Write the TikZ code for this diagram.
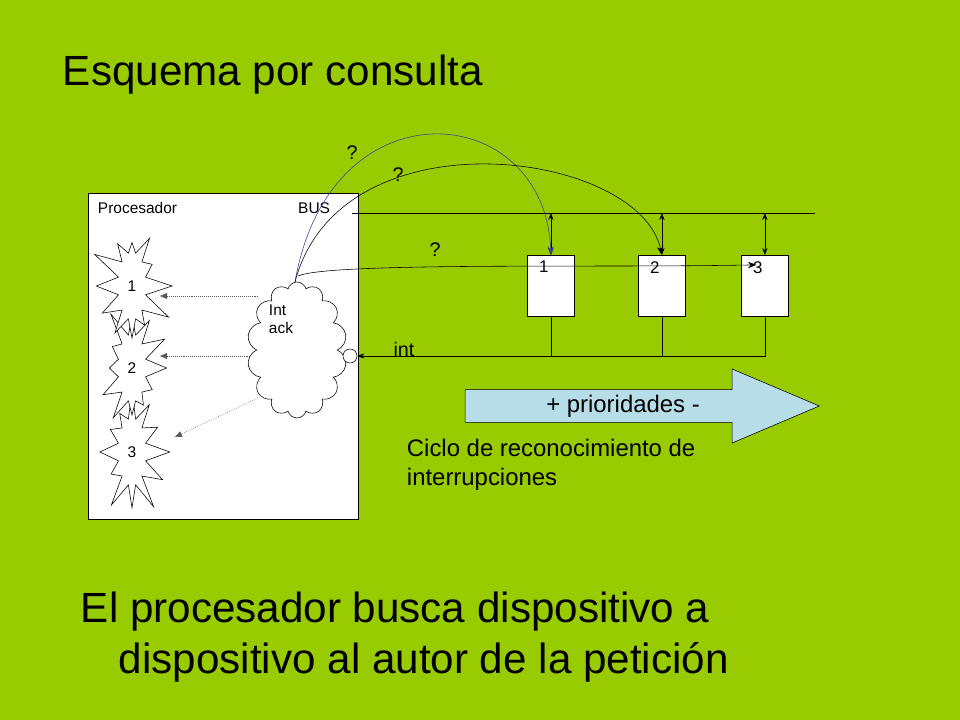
\documentclass[tikz,border=0pt]{standalone}
\usepackage{fontspec}
\setmainfont{Liberation Sans}
\usetikzlibrary{shapes.symbols,shapes.arrows,arrows.meta,positioning}

\definecolor{slidegreen}{RGB}{153,204,0}
\definecolor{arrowblue}{RGB}{183,222,232}
\definecolor{curveblue}{RGB}{60,60,160}

\begin{document}
\begin{tikzpicture}[x=0.025cm,y=-0.025cm,
    every node/.style={font=\fontsize{11}{13}\selectfont},
    device/.style={draw,fill=white,minimum width=1.18cm,minimum height=1.52cm,inner sep=0pt},
    burst/.style={starburst,draw,fill=white,starburst points=12,starburst point height=0.75cm,minimum width=2.2cm,minimum height=3.2cm,inner sep=0pt},
    link/.style={-{Stealth[length=5pt]}},
    dots/.style={-{Triangle[length=5pt]},densely dotted,gray!70!black},
    query/.style={-{Stealth[length=6pt]},thin}
]
\useasboundingbox[fill=slidegreen] (0,0) rectangle (960,720);

% Title
\node[anchor=west,font=\fontsize{30}{36}\selectfont] (title) at (58,75) {Esquema por consulta};

% Processor
\node[draw,fill=white,anchor=north west,minimum width=6.75cm,minimum height=8.15cm] (cpu) at (88,193) {};
\node[anchor=west] (cpulbl) at (93,208) {Procesador};
\node[anchor=east] (buslbl) at (335,208) {BUS};

% Interrupt routines
\node[burst,random starburst=7] (r3) at (132,452) {3};
\node[burst,random starburst=5] (r2) at (132,368) {2};
\node[burst,random starburst=3] (r1) at (132,286) {1};

% Int ack cloud
\node[cloud,draw,fill=white,aspect=0.7,cloud puffs=14,minimum width=2.5cm,minimum height=3.4cm] (ack) at (297,350) {};
\node[anchor=north west,align=left] (acklbl) at (264,300) {Int\\ack};
\node[circle,draw,fill=white,minimum size=0.35cm,inner sep=0pt] (intc) at (350,356) {};

% Bus and devices
\coordinate (busl) at (352,213);
\coordinate (busr) at (815,213);
\draw (busl) -- (busr);
\node[device,anchor=north west] (d1) at (527,255) {};
\node[device,anchor=north west] (d2) at (638,255) {};
\node[device,anchor=north west] (d3) at (741,255) {};
\foreach \i in {1,2,3} {
  \node[anchor=north west,font=\fontsize{12}{14}\selectfont] at ([shift={(5pt,-1pt)}]d\i.north west) {\i};
  \draw[{Stealth[length=5pt]}-{Stealth[length=5pt]}] (d\i.north |- busl) -- (d\i.north);
}

% Interrupt line
\coordinate (irq) at (d3.south |- intc);
\draw (d1.south) -- (d1.south |- irq);
\draw (d2.south) -- (d2.south |- irq);
\draw[link] (d3.south) -- (irq) -- (intc.east);
\node[font=\fontsize{14}{16}\selectfont] (intlbl) at (404,349) {int};

% Acknowledge to routines
\draw[dots] (258,296) -- (160,296);
\draw[dots] (250,356) -- (160,356);
\draw[dots] (258,398) -- (175,437);

% Polling
\draw[query,curveblue] (295,282) .. controls (330,80) and (545,100) .. (d1.north);
\draw[query] (295,282) .. controls (340,110) and (640,150) .. (d2.north);
\draw[query] (298,276) .. controls (330,262) and (600,268) .. ([xshift=-6pt,yshift=-7pt]d3.north);
\node[font=\fontsize{14}{16}\selectfont] (q1) at (352,153) {?};
\node[font=\fontsize{14}{16}\selectfont] (q2) at (398,175) {?};
\node[font=\fontsize{14}{16}\selectfont] (q3) at (435,250) {?};

% Priorities
\node[single arrow,draw,fill=arrowblue,anchor=tip,minimum height=8.85cm,minimum width=1.85cm,single arrow head extend=0.49cm,single arrow tip angle=46,inner xsep=2pt,inner ysep=0.1cm,font=\fontsize{17}{19}\selectfont] (prio) at (820,406) {+ prioridades -\hspace{1.3cm}};
\node[anchor=north west,align=left,font=\fontsize{17}{21}\selectfont] (ciclo) at (402,434) {Ciclo de reconocimiento de\\interrupciones};

% Bottom text
\node[anchor=west,font=\fontsize{30}{36}\selectfont] (msg1) at (76,612) {El procesador busca dispositivo a};
\node[anchor=west,font=\fontsize{30}{36}\selectfont] (msg2) at (114,662) {dispositivo al autor de la petición};
\end{tikzpicture}
\end{document}
